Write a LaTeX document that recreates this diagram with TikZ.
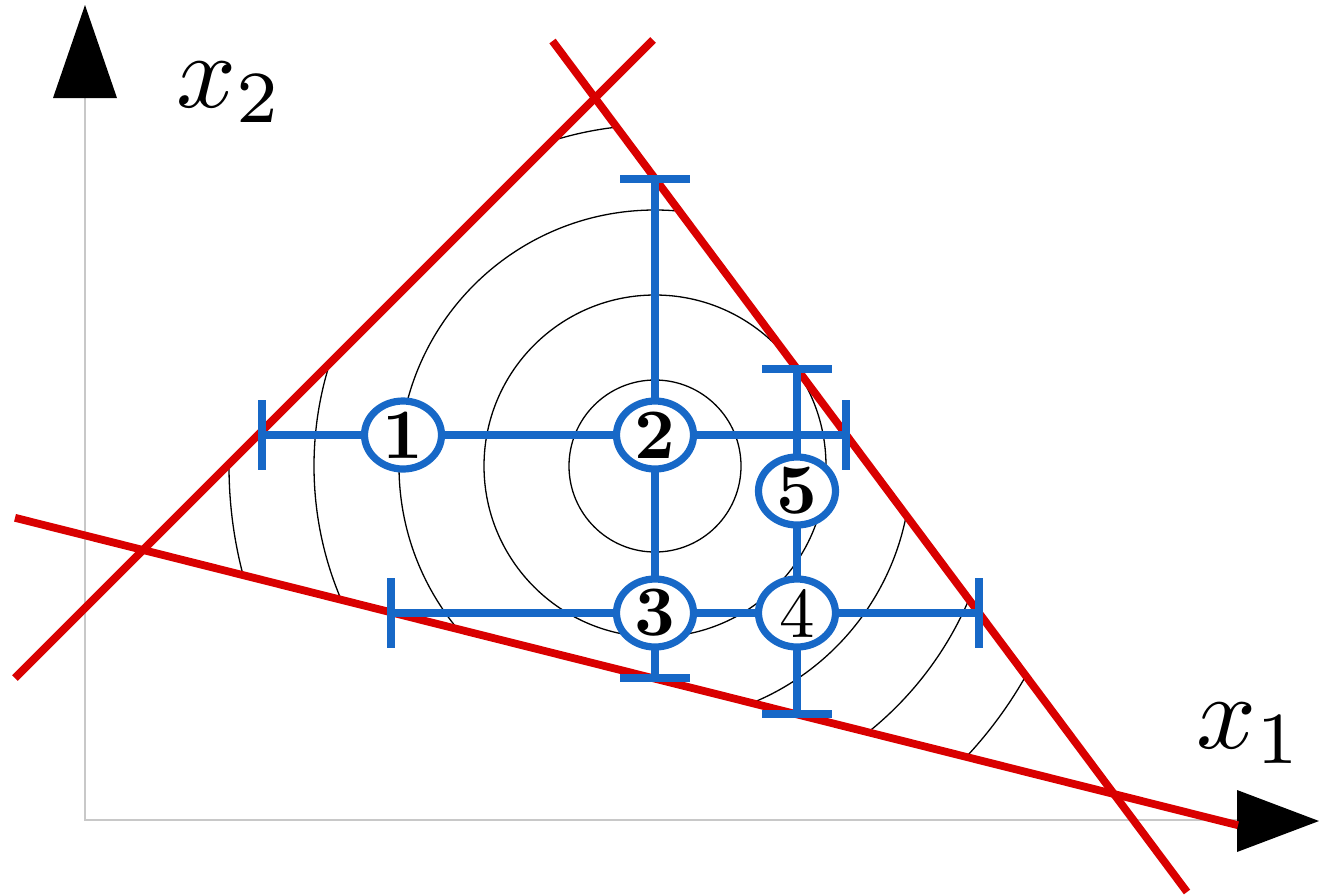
\documentclass[tikz,border=0pt]{standalone}
\usepackage{graphicx}
\usetikzlibrary{shapes.geometric,calc}
\definecolor{cred}{RGB}{217,0,0}
\definecolor{cblue}{RGB}{23,104,199}
\definecolor{caxis}{RGB}{200,200,200}
\tikzset{
  redline/.style={draw=cred,line width=7.8pt},
  blueline/.style={draw=cblue,line width=7.2pt},
  contour/.style={draw=black,line width=1.3pt},
  axisline/.style={draw=caxis,line width=1.6pt},
  tip/.style={fill=black},
  pt/.style={ellipse,draw=cblue,line width=7.2pt,fill=white,minimum width=77pt,minimum height=68pt,inner sep=0pt},
  axlabel/.style={inner sep=0pt,anchor=base west}
}
\newcommand{\ptnum}[1]{\scalebox{7.1}{#1}}
\newcommand{\axtext}[1]{\scalebox{10.5}{#1}}
\begin{document}
\begin{tikzpicture}[x=1pt,y=-1pt]
\useasboundingbox (0,0) rectangle (1319,895);
% axes
\coordinate (O) at (85,820);
\coordinate (Ytop) at (85,98);
\coordinate (Xend) at (1237,820);
\draw[axisline] (Ytop) -- (O) -- (Xend);
\fill[tip] (85,5) -- (117,98) -- (53,98) -- cycle;
\fill[tip] (1319,821) -- (1237,852) -- (1237,790) -- cycle;
\node[axlabel] (lx2) at (176,107) {\axtext{$x_2$}};
\node[axlabel] (lx1) at (1196,748) {\axtext{$x_1$}};
% triangle vertices
\coordinate (P) at (595,98);
\coordinate (Q) at (143,550);
\coordinate (R) at (1114,794);
\coordinate (C0) at (655,466);
% contours
\begin{scope}
\clip (P) -- (Q) -- (R) -- cycle;
\foreach \r in {86,171,256,341,426} \draw[contour] (C0) circle[radius=\r];
\end{scope}
% red constraint lines
\coordinate (A1) at (15,678);
\coordinate (A2) at (653,40);
\coordinate (B1) at (552.5,41);
\coordinate (B2) at (1187,892);
\coordinate (C1) at (15,517.8);
\coordinate (C2) at (1238,825.2);
\draw[redline] (A1) -- (A2);
\draw[redline] (B1) -- (B2);
\draw[redline] (C1) -- (C2);
% blue search lines
\coordinate (c1) at (403,435);
\coordinate (c2) at (655,435);
\coordinate (c3) at (655,613);
\coordinate (c4) at (797,613);
\coordinate (c5) at (797,491);
\coordinate (h1L) at (262,435);
\coordinate (h1R) at (846,435);
\coordinate (v1T) at (655,179);
\coordinate (v1B) at (655,678);
\coordinate (h2L) at (391,613);
\coordinate (h2R) at (979,613);
\coordinate (v2T) at (797,369);
\coordinate (v2B) at (797,714);
\draw[blueline] (h1L) -- (h1R);
\draw[blueline] (v1T) -- (v1B);
\draw[blueline] (h2L) -- (h2R);
\draw[blueline] (v2T) -- (v2B);
\foreach \p in {h1L,h1R,h2L,h2R} \draw[blueline] ([yshift=35pt]\p) -- ([yshift=-35pt]\p);
\foreach \p in {v1T,v1B,v2T,v2B} \draw[blueline] ([xshift=-35pt]\p) -- ([xshift=35pt]\p);
% points
\node[pt] (n1) at (c1) {\ptnum{\textbf{1}}};
\node[pt] (n2) at (c2) {\ptnum{\textbf{2}}};
\node[pt] (n3) at (c3) {\ptnum{\textbf{3}}};
\node[pt] (n4) at (c4) {\ptnum{4}};
\node[pt] (n5) at (c5) {\ptnum{\textbf{5}}};
\end{tikzpicture}
\end{document}
